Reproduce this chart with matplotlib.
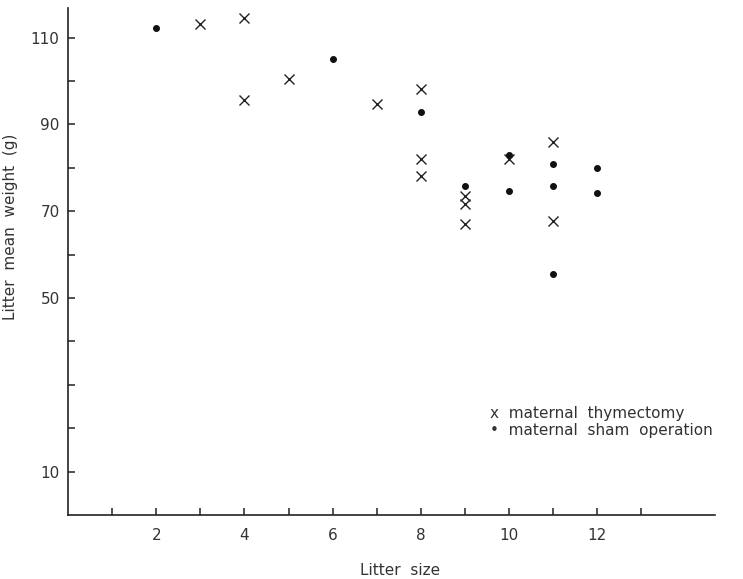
import matplotlib
matplotlib.use("Agg")
import matplotlib.pyplot as plt

# maternal thymectomy (x markers)
thym_size = [3, 4, 4, 5, 7, 8, 8, 8, 9, 9, 9, 10, 11, 11]
thym_weight = [113.1, 114.5, 95.6, 100.5, 94.7, 98.2, 82.0, 78.1, 73.5, 71.7, 67.1, 82.0, 86.0, 67.7]

# maternal sham operation (dots)
sham_size = [2, 6, 8, 9, 10, 10, 11, 11, 11, 12, 12]
sham_weight = [112.2, 105.1, 92.9, 75.8, 83.0, 74.7, 80.9, 75.8, 55.5, 80.0, 74.2]

x_ticks = list(range(1, 14))
x_labels = ["", "2", "", "4", "", "6", "", "8", "", "10", "", "12", ""]
y_ticks = [10, 20, 30, 40, 50, 60, 70, 80, 90, 100, 110]
y_labels = ["10", "", "", "", "50", "", "70", "", "90", "", "110"]

plt.rcParams["font.family"] = ["DejaVu Sans"]

fig = plt.figure(figsize=(7.43, 5.79), dpi=100)
ax = fig.add_axes([0.0915, 0.1105, 0.871, 0.8756])

ax.plot(thym_size, thym_weight, linestyle="none", marker="x", markersize=6.5,
        markeredgewidth=1.0, color="#222222")
ax.plot(sham_size, sham_weight, linestyle="none", marker="o", markersize=4,
        color="#111111")

ax.set_xlim(0, 14.67)
ax.set_ylim(0, 116.8)
ax.set_xticks(x_ticks)
ax.set_xticklabels(x_labels)
ax.set_yticks(y_ticks)
ax.set_yticklabels(y_labels)

for side in ["top", "right"]:
    ax.spines[side].set_visible(False)
for side in ["left", "bottom"]:
    ax.spines[side].set_linewidth(1.2)
    ax.spines[side].set_color("#222222")

ax.tick_params(direction="in", length=5, width=1.1, colors="#222222",
               labelsize=11, labelcolor="#333333")
ax.tick_params(axis="x", pad=9)
ax.tick_params(axis="y", pad=6)

ax.set_xlabel("Litter  size", fontsize=11, color="#333333")
ax.set_ylabel("Litter  mean  weight  (g)", fontsize=11, color="#333333")
ax.xaxis.set_label_coords(0.513, -0.095)
ax.yaxis.set_label_coords(-0.077, 0.568)

# legend drawn as text, like the original figure
ax.text(0.652, 0.2, "x  maternal  thymectomy", transform=ax.transAxes,
        fontsize=11, color="#333333", va="center")
ax.text(0.652, 0.166, "\u2022  maternal  sham  operation", transform=ax.transAxes,
        fontsize=11, color="#333333", va="center")

plt.savefig("out.png", dpi=100)
